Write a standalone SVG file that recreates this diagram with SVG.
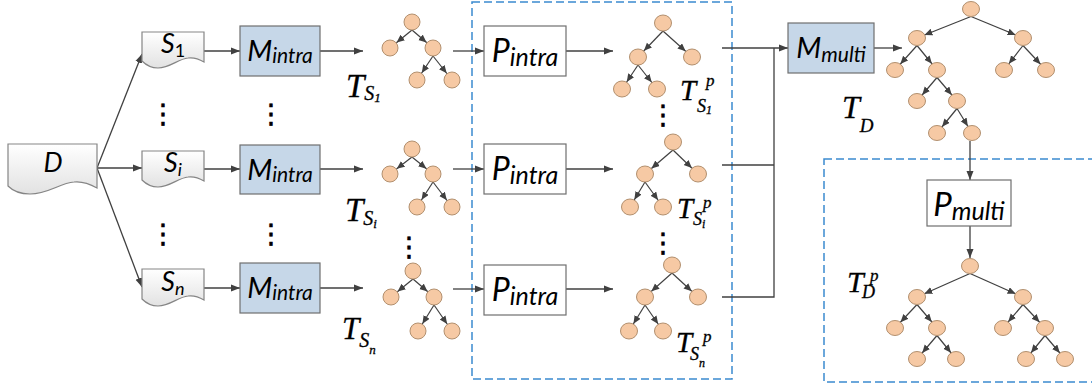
<svg xmlns="http://www.w3.org/2000/svg" width="1092" height="391" viewBox="0 0 1092 391">
<defs>
<linearGradient id="docg" x1="0" y1="0" x2="0" y2="1">
<stop offset="0" stop-color="#ffffff"/>
<stop offset="1" stop-color="#e2e2e2"/>
</linearGradient>
<marker id="ah" markerUnits="userSpaceOnUse" markerWidth="10" markerHeight="8" refX="9" refY="4" orient="auto">
<path d="M0,0.5 L9,4 L0,7.5 z" fill="#404040"/>
</marker>
<marker id="ta" markerUnits="userSpaceOnUse" markerWidth="20" markerHeight="8" refX="16.5" refY="3.5" orient="auto">
<path d="M0,0 L8,3.5 L0,7 z" fill="#404040"/>
</marker>
<marker id="tb" markerUnits="userSpaceOnUse" markerWidth="20" markerHeight="8" refX="16" refY="3.5" orient="auto">
<path d="M0,0 L8,3.5 L0,7 z" fill="#404040"/>
</marker>
<style>
.ln{stroke:#404040;stroke-width:1.3;fill:none}
.ar{stroke:#404040;stroke-width:1.3;fill:none;marker-end:url(#ah)}
.te{stroke:#404040;stroke-width:1.2;fill:none;marker-end:url(#ta)}
.tf{stroke:#404040;stroke-width:1.2;fill:none;marker-end:url(#tb)}
.nd{fill:#f6c9a4;stroke:#b2906f;stroke-width:1}
.doc{fill:url(#docg);stroke:#858585;stroke-width:1.2}
.mb{fill:#c6d7e8;stroke:#6f6f6f;stroke-width:1.2}
.pb{fill:#ffffff;stroke:#6f6f6f;stroke-width:1.2}
.dash{fill:none;stroke:#3b8bd0;stroke-width:1.5;stroke-dasharray:8 4}
.lab{font-family:Lato,"Liberation Sans",sans-serif;font-style:italic;fill:#000}
.mt{font-family:"Liberation Serif","Times New Roman",serif;font-style:italic;fill:#000;stroke:#000;stroke-width:0.3}
.dots{font-family:"DejaVu Sans",sans-serif;font-size:27px;fill:#000;stroke:#000;stroke-width:0.6;text-anchor:middle}
</style>
</defs>
<rect width="1092" height="391" fill="#ffffff"/>

<!-- dashed frames -->
<rect class="dash" x="472" y="2" width="260" height="377"/>
<rect class="dash" x="824" y="159" width="272" height="223"/>

<!-- connectors -->
<g id="connectors">
<line class="ar" x1="97" y1="168" x2="142" y2="54"/>
<line class="ar" x1="97" y1="168" x2="142" y2="168"/>
<line class="ar" x1="97" y1="168" x2="142" y2="287"/>
<line class="ar" x1="204" y1="51" x2="240" y2="51"/>
<line class="ar" x1="204" y1="169" x2="240" y2="169"/>
<line class="ar" x1="204" y1="288" x2="240" y2="288"/>
<line class="ar" x1="320" y1="51" x2="363" y2="51"/>
<line class="ar" x1="320" y1="169" x2="363" y2="169"/>
<line class="ar" x1="320" y1="288" x2="363" y2="288"/>
<line class="ar" x1="453" y1="51" x2="484" y2="51"/>
<line class="ar" x1="453" y1="169" x2="484" y2="169"/>
<line class="ar" x1="453" y1="289" x2="484" y2="289"/>
<line class="ar" x1="566" y1="51" x2="613" y2="51"/>
<line class="ar" x1="566" y1="169" x2="613" y2="169"/>
<line class="ar" x1="566" y1="289" x2="613" y2="289"/>
<line class="ar" x1="722" y1="48" x2="788" y2="48"/>
<polyline class="ln" points="722,165 774,165"/>
<polyline class="ln" points="722,297 774,297 774,48"/>
<line class="ar" x1="874" y1="48" x2="902" y2="48"/>
<line class="ar" x1="970" y1="141" x2="970" y2="180"/>
<line class="ar" x1="970" y1="226" x2="970" y2="258"/>
</g>

<!-- document nodes -->
<g id="D">
<path class="doc" d="M8,144 H97 V188 C90,184 83,181 74,182 C60,183 48,194 30,194 C20,194 13,191 8,186 Z"/>
<text class="lab" x="53" y="172" font-size="27" text-anchor="middle">D</text>
</g>
<g id="S1">
<path class="doc" d="M142,32 H204 V62 C199,59 195,57 188,58 C178,59 170,68 158,68 C150,68 145,64 142,61 Z"/>
<text class="lab" x="173" y="53" text-anchor="middle"><tspan font-size="27">S</tspan><tspan font-size="18" font-style="normal" dy="4">1</tspan></text>
</g>
<g id="Si">
<path class="doc" d="M142,151 H204 V181 C199,178 195,176 188,177 C178,178 170,187 158,187 C150,187 145,183 142,180 Z"/>
<text class="lab" x="173" y="172" text-anchor="middle"><tspan font-size="27">S</tspan><tspan font-size="18" dy="4">i</tspan></text>
</g>
<g id="Sn">
<path class="doc" d="M142,269 H204 V300 C199,297 195,295 188,296 C178,297 170,306 158,306 C150,306 145,302 142,299 Z"/>
<text class="lab" x="173" y="291" text-anchor="middle"><tspan font-size="27">S</tspan><tspan font-size="18" dy="4">n</tspan></text>
</g>

<!-- M intra -->
<g id="M1">
<rect class="mb" x="240" y="26" width="80" height="50"/>
<text class="lab" x="280" y="61" text-anchor="middle"><tspan font-size="29">M</tspan><tspan font-size="21" dy="2">intra</tspan></text>
</g>
<g id="M2">
<rect class="mb" x="240" y="145" width="80" height="49"/>
<text class="lab" x="280" y="180" text-anchor="middle"><tspan font-size="29">M</tspan><tspan font-size="21" dy="2">intra</tspan></text>
</g>
<g id="M3">
<rect class="mb" x="240" y="263" width="80" height="50"/>
<text class="lab" x="280" y="298" text-anchor="middle"><tspan font-size="29">M</tspan><tspan font-size="21" dy="2">intra</tspan></text>
</g>

<!-- P intra -->
<g id="P1">
<rect class="pb" x="484" y="26" width="82" height="50"/>
<text class="lab" x="525" y="62" text-anchor="middle"><tspan font-size="32">P</tspan><tspan font-size="25" dy="4">intra</tspan></text>
</g>
<g id="P2">
<rect class="pb" x="484" y="144" width="82" height="50"/>
<text class="lab" x="525" y="180" text-anchor="middle"><tspan font-size="32">P</tspan><tspan font-size="25" dy="4">intra</tspan></text>
</g>
<g id="P3">
<rect class="pb" x="484" y="265" width="82" height="50"/>
<text class="lab" x="525" y="301" text-anchor="middle"><tspan font-size="32">P</tspan><tspan font-size="25" dy="4">intra</tspan></text>
</g>

<!-- M multi / P multi -->
<g id="Mmulti">
<rect class="mb" x="788" y="23" width="86" height="50"/>
<text class="lab" x="831" y="58" text-anchor="middle"><tspan font-size="29">M</tspan><tspan font-size="21" dy="4">multi</tspan></text>
</g>
<g id="Pmulti">
<rect class="pb" x="927" y="180" width="84" height="46"/>
<text class="lab" x="969" y="216" text-anchor="middle"><tspan font-size="33">P</tspan><tspan font-size="25" dy="4">multi</tspan></text>
</g>

<!-- trees -->
<g id="treeS1">
<line class="te" x1="412" y1="30" x2="390" y2="48"/>
<line class="te" x1="412" y1="30" x2="433" y2="48"/>
<line class="te" x1="433" y1="56" x2="417" y2="80"/>
<line class="te" x1="433" y1="56" x2="452" y2="80"/>
<circle class="nd" cx="412" cy="22" r="8"/>
<circle class="nd" cx="390" cy="48" r="8"/>
<circle class="nd" cx="433" cy="48" r="8"/>
<circle class="nd" cx="417" cy="80" r="8"/>
<circle class="nd" cx="452" cy="80" r="8"/>
</g>
<g id="treeSi">
<line class="te" x1="412" y1="157" x2="390" y2="174"/>
<line class="te" x1="412" y1="157" x2="433" y2="174"/>
<line class="te" x1="433" y1="182" x2="417" y2="207"/>
<line class="te" x1="433" y1="182" x2="452" y2="207"/>
<circle class="nd" cx="412" cy="149" r="8"/>
<circle class="nd" cx="390" cy="174" r="8"/>
<circle class="nd" cx="433" cy="174" r="8"/>
<circle class="nd" cx="417" cy="207" r="8"/>
<circle class="nd" cx="452" cy="207" r="8"/>
</g>
<g id="treeSn">
<line class="te" x1="413" y1="279" x2="391" y2="297"/>
<line class="te" x1="413" y1="279" x2="434" y2="297"/>
<line class="te" x1="434" y1="305" x2="418" y2="331"/>
<line class="te" x1="434" y1="305" x2="452" y2="331"/>
<circle class="nd" cx="413" cy="271" r="8"/>
<circle class="nd" cx="391" cy="297" r="8"/>
<circle class="nd" cx="434" cy="297" r="8"/>
<circle class="nd" cx="418" cy="331" r="8"/>
<circle class="nd" cx="452" cy="331" r="8"/>
</g>
<g id="treeS1p">
<line class="te" x1="663" y1="31" x2="638" y2="57"/>
<line class="te" x1="663" y1="31" x2="692" y2="57"/>
<line class="te" x1="638" y1="65" x2="622" y2="89"/>
<line class="te" x1="638" y1="65" x2="657" y2="89"/>
<ellipse class="nd" cx="663" cy="23" rx="8.5" ry="8"/>
<ellipse class="nd" cx="638" cy="57" rx="8.5" ry="8"/>
<ellipse class="nd" cx="692" cy="57" rx="8.5" ry="8"/>
<ellipse class="nd" cx="622" cy="89" rx="8.5" ry="8"/>
<ellipse class="nd" cx="657" cy="89" rx="8.5" ry="8"/>
</g>
<g id="treeSip">
<line class="te" x1="673" y1="150" x2="645" y2="174"/>
<line class="te" x1="673" y1="150" x2="698" y2="174"/>
<line class="te" x1="645" y1="182" x2="630" y2="207"/>
<line class="te" x1="645" y1="182" x2="663" y2="207"/>
<ellipse class="nd" cx="673" cy="142" rx="8.5" ry="8"/>
<ellipse class="nd" cx="645" cy="174" rx="8.5" ry="8"/>
<ellipse class="nd" cx="698" cy="174" rx="8.5" ry="8"/>
<ellipse class="nd" cx="630" cy="207" rx="8.5" ry="8"/>
<ellipse class="nd" cx="663" cy="207" rx="8.5" ry="8"/>
</g>
<g id="treeSnp">
<line class="te" x1="672" y1="273" x2="645" y2="297"/>
<line class="te" x1="672" y1="273" x2="698" y2="297"/>
<line class="te" x1="645" y1="305" x2="629" y2="331"/>
<line class="te" x1="645" y1="305" x2="663" y2="331"/>
<ellipse class="nd" cx="672" cy="265" rx="8.5" ry="8"/>
<ellipse class="nd" cx="645" cy="297" rx="8.5" ry="8"/>
<ellipse class="nd" cx="698" cy="297" rx="8.5" ry="8"/>
<ellipse class="nd" cx="629" cy="331" rx="8.5" ry="8"/>
<ellipse class="nd" cx="663" cy="331" rx="8.5" ry="8"/>
</g>
<g id="treeD">
<line class="tf" x1="971" y1="16.5" x2="917" y2="38"/>
<line class="tf" x1="971" y1="16.5" x2="1023" y2="38"/>
<line class="tf" x1="917" y1="45.5" x2="895" y2="70"/>
<line class="tf" x1="917" y1="45.5" x2="937" y2="70"/>
<line class="tf" x1="1023" y1="45.5" x2="1004" y2="70"/>
<line class="tf" x1="1023" y1="45.5" x2="1046" y2="70"/>
<line class="tf" x1="937" y1="77.5" x2="917" y2="101"/>
<line class="tf" x1="937" y1="77.5" x2="957" y2="101"/>
<line class="tf" x1="957" y1="108.5" x2="937" y2="133"/>
<line class="tf" x1="957" y1="108.5" x2="972" y2="133"/>
<ellipse class="nd" cx="971" cy="9" rx="8.5" ry="7.5"/>
<ellipse class="nd" cx="917" cy="38" rx="8.5" ry="7.5"/>
<ellipse class="nd" cx="1023" cy="38" rx="8.5" ry="7.5"/>
<ellipse class="nd" cx="895" cy="70" rx="8.5" ry="7.5"/>
<ellipse class="nd" cx="937" cy="70" rx="8.5" ry="7.5"/>
<ellipse class="nd" cx="1004" cy="70" rx="8.5" ry="7.5"/>
<ellipse class="nd" cx="1046" cy="70" rx="8.5" ry="7.5"/>
<ellipse class="nd" cx="917" cy="101" rx="8.5" ry="7.5"/>
<ellipse class="nd" cx="957" cy="101" rx="8.5" ry="7.5"/>
<ellipse class="nd" cx="937" cy="133" rx="8.5" ry="7.5"/>
<ellipse class="nd" cx="972" cy="133" rx="8.5" ry="7.5"/>
</g>
<g id="treeDp">
<line class="tf" x1="970" y1="273.5" x2="917" y2="297"/>
<line class="tf" x1="970" y1="273.5" x2="1023" y2="297"/>
<line class="tf" x1="917" y1="304.5" x2="895" y2="328"/>
<line class="tf" x1="917" y1="304.5" x2="937" y2="328"/>
<line class="tf" x1="1023" y1="304.5" x2="1003" y2="328"/>
<line class="tf" x1="1023" y1="304.5" x2="1045" y2="328"/>
<line class="tf" x1="937" y1="335.5" x2="917" y2="359"/>
<line class="tf" x1="937" y1="335.5" x2="956" y2="359"/>
<line class="tf" x1="1045" y1="335.5" x2="1026" y2="359"/>
<line class="tf" x1="1045" y1="335.5" x2="1065" y2="359"/>
<ellipse class="nd" cx="970" cy="266" rx="8.5" ry="7.5"/>
<ellipse class="nd" cx="917" cy="297" rx="8.5" ry="7.5"/>
<ellipse class="nd" cx="1023" cy="297" rx="8.5" ry="7.5"/>
<ellipse class="nd" cx="895" cy="328" rx="8.5" ry="7.5"/>
<ellipse class="nd" cx="937" cy="328" rx="8.5" ry="7.5"/>
<ellipse class="nd" cx="1003" cy="328" rx="8.5" ry="7.5"/>
<ellipse class="nd" cx="1045" cy="328" rx="8.5" ry="7.5"/>
<ellipse class="nd" cx="917" cy="359" rx="8.5" ry="7.5"/>
<ellipse class="nd" cx="956" cy="359" rx="8.5" ry="7.5"/>
<ellipse class="nd" cx="1026" cy="359" rx="8.5" ry="7.5"/>
<ellipse class="nd" cx="1065" cy="359" rx="8.5" ry="7.5"/>
</g>

<!-- math labels -->
<g id="labels">
<text class="mt" x="346" y="97" font-size="33">T<tspan font-size="20" dy="3">S</tspan><tspan font-size="13" dy="2">1</tspan></text>
<text class="mt" x="345" y="221" font-size="33">T<tspan font-size="20" dy="4">S</tspan><tspan font-size="13" dy="3">i</tspan></text>
<text class="mt" x="342" y="339" font-size="31">T<tspan font-size="20" dy="8">S</tspan><tspan font-size="13" dy="7">n</tspan></text>
<text class="mt" x="680" y="100" font-size="29">T<tspan font-size="17" x="706" dy="-14">p</tspan><tspan font-size="18" x="697" dy="26">S</tspan><tspan font-size="12" dy="2">1</tspan></text>
<text class="mt" x="677" y="218" font-size="29">T<tspan font-size="17" x="703" dy="-10">p</tspan><tspan font-size="18" x="693" dy="17">S</tspan><tspan font-size="12" dy="3">i</tspan></text>
<text class="mt" x="676" y="352" font-size="29">T<tspan font-size="17" x="703" dy="-10">p</tspan><tspan font-size="18" x="690" dy="18">S</tspan><tspan font-size="12" dy="7">n</tspan></text>
<text class="mt" x="842" y="118" font-size="32">T<tspan font-size="19" dy="14">D</tspan></text>
<text class="mt" x="847" y="292" font-size="30">T<tspan font-size="17" x="870" dy="-11">p</tspan><tspan font-size="18" x="862" dy="17">D</tspan></text>
</g>

<!-- ellipsis dots -->
<g id="dots">
<text class="dots" x="163" y="123">⋮</text>
<text class="dots" x="271" y="123">⋮</text>
<text class="dots" x="163" y="243">⋮</text>
<text class="dots" x="271" y="243">⋮</text>
<text class="dots" x="409" y="256">⋮</text>
<text class="dots" x="663" y="124">⋮</text>
<text class="dots" x="663" y="252">⋮</text>
</g>
</svg>
